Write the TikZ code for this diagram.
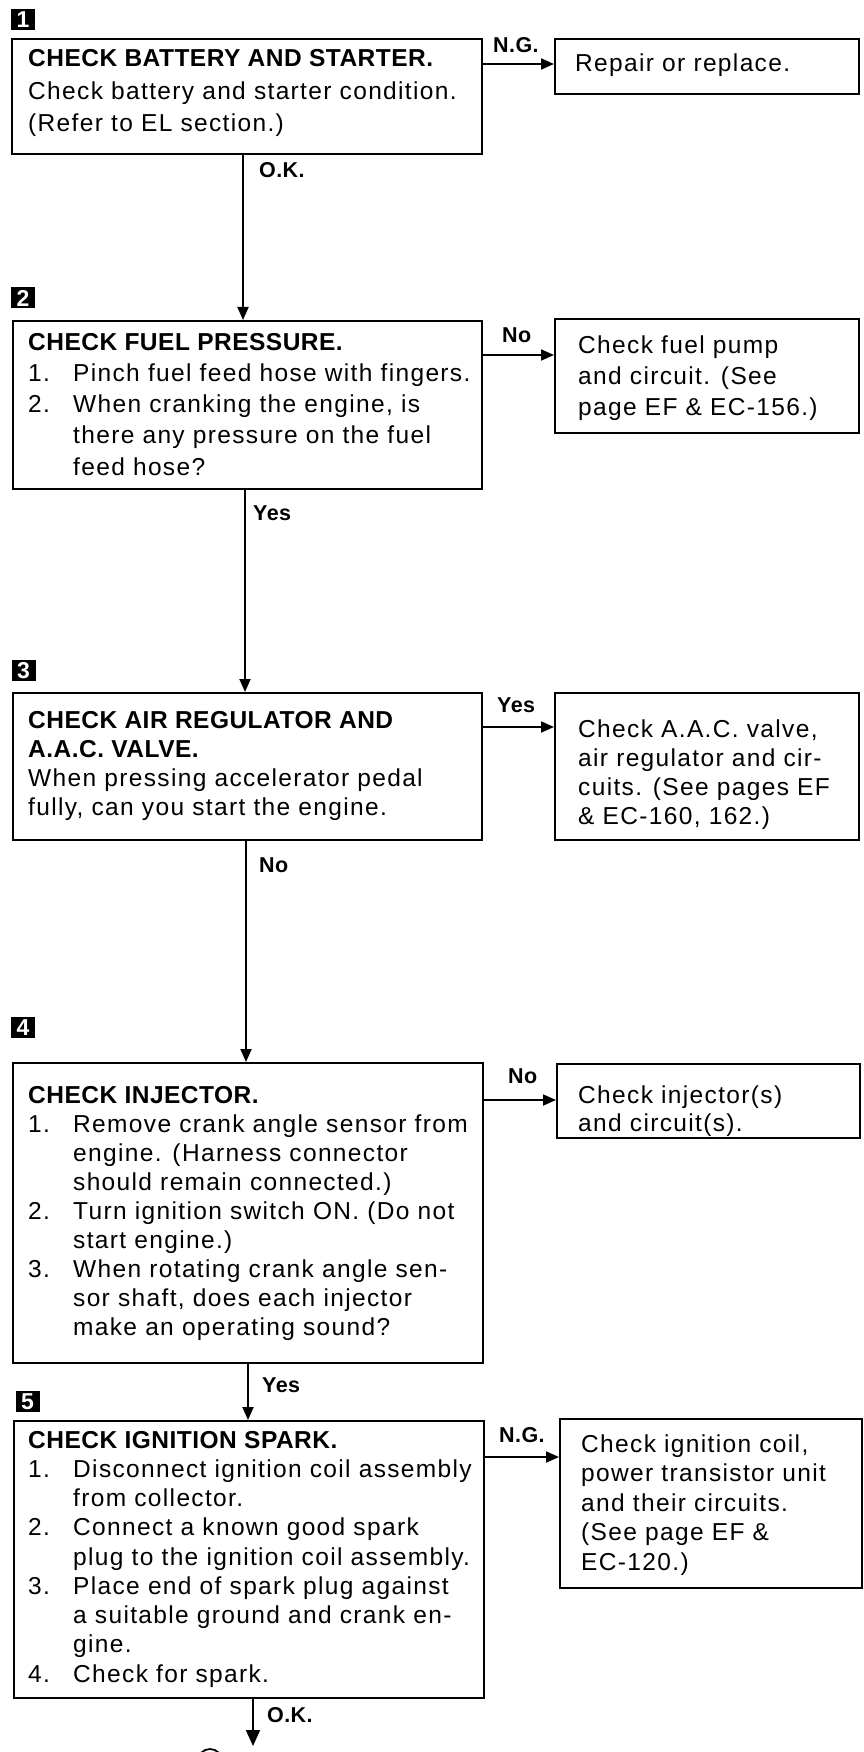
\documentclass[tikz,border=0pt]{standalone}
\usepackage{fontspec}
\setmainfont{Liberation Sans}[LetterSpace=5.5,BoldFeatures={LetterSpace=2}]
\usetikzlibrary{arrows.meta}
\newcommand{\itm}[1]{\makebox[45pt][l]{#1}}
\newcommand{\cnt}{\hspace*{45pt}}
\begin{document}
\begin{tikzpicture}[x=1pt,y=-1pt,
  frame/.style={draw,line width=1.9pt,inner sep=0pt,anchor=north west},
  txt/.style={inner sep=0pt,anchor=base west,align=left},
  arr/.style={line width=1.8pt,-{Triangle[length=13pt,width=11pt]}},
  lab/.style={inner sep=0pt,anchor=base west,font=\fontsize{21.5}{21.5}\bfseries\selectfont},
  badge/.style={fill=black,text=white,minimum width=24pt,minimum height=21pt,inner sep=0pt,font=\fontsize{23}{23}\bfseries\selectfont}]
\useasboundingbox (0,0) rectangle (863,1752);
\clip (0,0) rectangle (863,1752);

% badges
\node[badge] (n1) at (23,20) {1};
\node[badge] (n2) at (23,298) {2};
\node[badge] (n3) at (23.5,670.5) {3};
\node[badge] (n4) at (23,1027.5) {4};
\node[badge] (n5) at (27.5,1401.5) {5};

% main boxes
\node[frame,minimum width=470pt,minimum height=115pt] (b1) at (11,38) {};
\node[frame,minimum width=469pt,minimum height=168pt] (b2) at (12,320) {};
\node[frame,minimum width=469pt,minimum height=147pt] (b3) at (12,692) {};
\node[frame,minimum width=470pt,minimum height=300pt] (b4) at (12,1062) {};
\node[frame,minimum width=470pt,minimum height=277pt] (b5) at (13,1420) {};

% result boxes
\node[frame,minimum width=304pt,minimum height=55pt] (r1) at (554,38) {};
\node[frame,minimum width=304pt,minimum height=114pt] (r2) at (554,318) {};
\node[frame,minimum width=304pt,minimum height=147pt] (r3) at (554,692) {};
\node[frame,minimum width=303pt,minimum height=74pt] (r4) at (556,1063) {};
\node[frame,minimum width=302pt,minimum height=169pt] (r5) at (559,1418) {};

% texts in main boxes
\node[txt,font=\fontsize{24.5}{32.5}\selectfont] (t1) at (28,67) {\begin{tabular}[t]{@{}l@{}}
\bfseries CHECK BATTERY AND STARTER.\\
Check battery and starter condition.\\
(Refer to EL section.)\end{tabular}};

\node[txt,font=\fontsize{24.5}{31.25}\selectfont] (t2) at (28,350) {\begin{tabular}[t]{@{}l@{}}
\bfseries CHECK FUEL PRESSURE.\\
\itm{1.}Pinch fuel feed hose with fingers.\\
\itm{2.}When cranking the engine, is\\
\cnt there any pressure on the fuel\\
\cnt feed hose?\end{tabular}};

\node[txt,font=\fontsize{24.5}{29.3}\selectfont] (t3) at (28,728) {\begin{tabular}[t]{@{}l@{}}
\bfseries CHECK AIR REGULATOR AND\\
\bfseries A.A.C. VALVE.\\
When pressing accelerator pedal\\
fully, can you start the engine.\end{tabular}};

\node[txt,font=\fontsize{24.5}{29}\selectfont] (t4) at (28,1103) {\begin{tabular}[t]{@{}l@{}}
\bfseries CHECK INJECTOR.\\
\itm{1.}Remove crank angle sensor from\\
\cnt engine. (Harness connector\\
\cnt should remain connected.)\\
\itm{2.}Turn ignition switch ON. (Do not\\
\cnt start engine.)\\
\itm{3.}When rotating crank angle sen-\\
\cnt sor shaft, does each injector\\
\cnt make an operating sound?\end{tabular}};

\node[txt,font=\fontsize{24.5}{29.25}\selectfont] (t5) at (28,1448) {\begin{tabular}[t]{@{}l@{}}
\bfseries CHECK IGNITION SPARK.\\
\itm{1.}Disconnect ignition coil assembly\\
\cnt from collector.\\
\itm{2.}Connect a known good spark\\
\cnt plug to the ignition coil assembly.\\
\itm{3.}Place end of spark plug against\\
\cnt a suitable ground and crank en-\\
\cnt gine.\\
\itm{4.}Check for spark.\end{tabular}};

% texts in result boxes
\node[txt,font=\fontsize{24.5}{30}\selectfont] (s1) at (575,72) {Repair or replace.};
\node[txt,font=\fontsize{24.5}{31}\selectfont] (s2) at (578,353) {\begin{tabular}[t]{@{}l@{}}
Check fuel pump\\ and circuit. (See\\ page EF \& EC-156.)\end{tabular}};
\node[txt,font=\fontsize{24.5}{29.3}\selectfont] (s3) at (578,737) {\begin{tabular}[t]{@{}l@{}}
Check A.A.C. valve,\\ air regulator and cir-\\ cuits. (See pages EF\\ \& EC-160, 162.)\end{tabular}};
\node[txt,font=\fontsize{24.5}{28.5}\selectfont] (s4) at (578,1103) {\begin{tabular}[t]{@{}l@{}}
Check injector(s)\\ and circuit(s).\end{tabular}};
\node[txt,font=\fontsize{24.5}{29.5}\selectfont] (s5) at (581,1452) {\begin{tabular}[t]{@{}l@{}}
Check ignition coil,\\ power transistor unit\\ and their circuits.\\ (See page EF \&\\ EC-120.)\end{tabular}};

% connector coordinates
\coordinate (v1) at (243,0);
\coordinate (v2) at (245,0);
\coordinate (v3) at (246,0);
\coordinate (v4) at (248,0);
\coordinate (v5) at (253,0);
\coordinate (h1) at (0,64);
\coordinate (h2) at (0,355);
\coordinate (h3) at (0,727);
\coordinate (h4) at (0,1100);
\coordinate (h5) at (0,1457);
\coordinate (out) at (253,1746);

% vertical connectors
\draw[arr] (b1.south -| v1) -- (b2.north -| v1);
\draw[arr] (b2.south -| v2) -- (b3.north -| v2);
\draw[arr] (b3.south -| v3) -- (b4.north -| v3);
\draw[arr] (b4.south -| v4) -- (b5.north -| v4);
\draw[line width=1.8pt,-{Triangle[length=16pt,width=14pt]}] (b5.south -| v5) -- (out);

% horizontal connectors
\draw[arr] (b1.east |- h1) -- (r1.west |- h1);
\draw[arr] (b2.east |- h2) -- (r2.west |- h2);
\draw[arr] (b3.east |- h3) -- (r3.west |- h3);
\draw[arr] (b4.east |- h4) -- (r4.west |- h4);
\draw[arr] (b5.east |- h5) -- (r5.west |- h5);

% labels
\node[lab] (l1) at (493,53) {N.G.};
\node[lab] (l2) at (259,178) {O.K.};
\node[lab] (l3) at (502,342) {No};
\node[lab] (l4) at (253,520) {Yes};
\node[lab] (l5) at (497,712) {Yes};
\node[lab] (l6) at (259,872) {No};
\node[lab] (l7) at (508,1083) {No};
\node[lab] (l8) at (262,1392) {Yes};
\node[lab] (l9) at (499,1442) {N.G.};
\node[lab] (l10) at (267,1722) {O.K.};

% continuation mark cut off at the bottom edge
\draw[line width=1.8pt] (210,1761) circle (12pt);
\end{tikzpicture}
\end{document}
